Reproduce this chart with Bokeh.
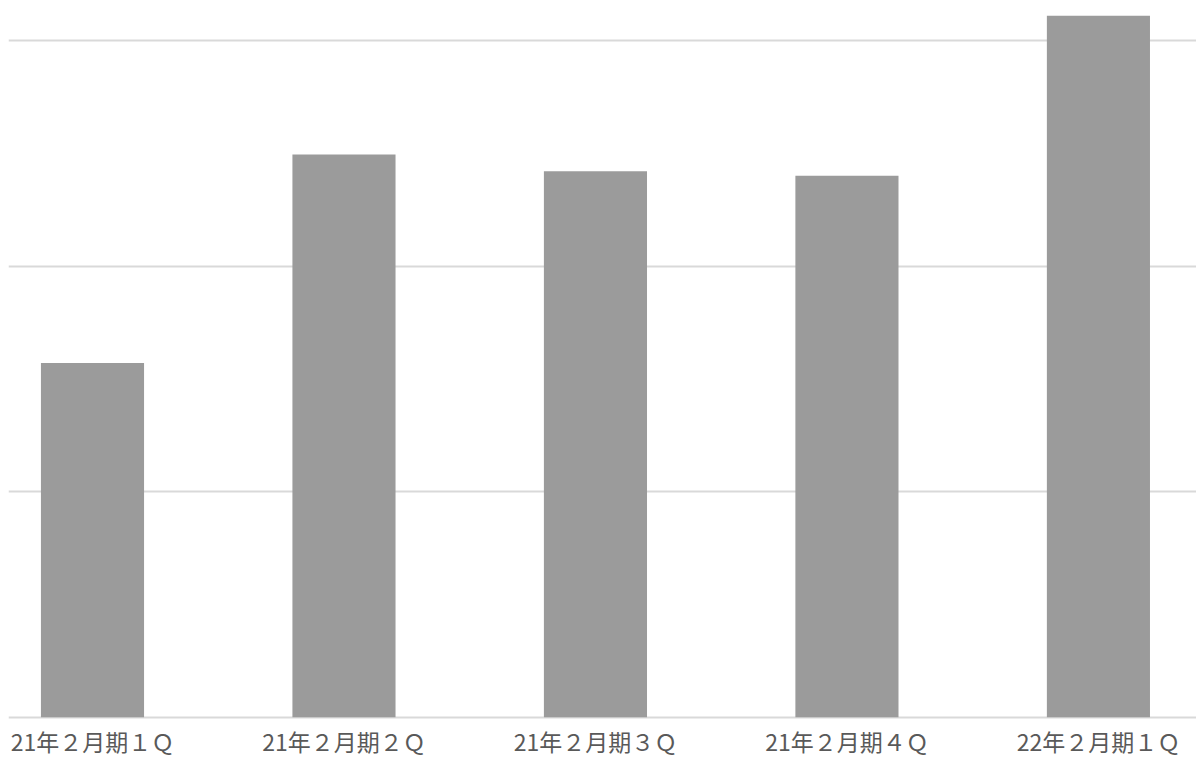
from bokeh.plotting import figure
from bokeh.models import Range1d, FixedTicker, ColumnDataSource
from bokeh.embed import file_html
from bokeh.resources import INLINE

categories = ["21年２月期１Ｑ", "21年２月期２Ｑ", "21年２月期３Ｑ", "21年２月期４Ｑ", "22年２月期１Ｑ"]
values = [157, 249.5, 242, 240, 311]
grid_ticks = [0, 100, 200, 300]

xs = list(range(len(categories)))
src = ColumnDataSource(dict(x=xs, top=values))

p = figure(width=1196, height=760, output_backend="svg", toolbar_location=None,
           x_range=Range1d(-0.334, 4.39), y_range=Range1d(-1.0, 315.5),
           min_border_left=8, min_border_right=0, min_border_top=5, min_border_bottom=0)
p.outline_line_color = None
p.background_fill_color = "white"
p.border_fill_color = "white"

p.vbar(x="x", top="top", width=0.41, bottom=0, source=src,
       fill_color="#9b9b9b", line_color=None)

p.yaxis.visible = False
p.ygrid.ticker = FixedTicker(ticks=grid_ticks)
p.ygrid.grid_line_color = "#d9d9d9"
p.ygrid.grid_line_width = 2
p.xgrid.grid_line_color = None

p.xaxis.ticker = FixedTicker(ticks=xs)
p.xaxis.major_label_overrides = {i: c for i, c in enumerate(categories)}
p.xaxis.axis_line_color = None
p.xaxis.major_tick_line_color = None
p.xaxis.major_tick_out = 0
p.xaxis.major_tick_in = 0
p.xaxis.minor_tick_line_color = None
p.xaxis.major_label_standoff = 4
p.xaxis.major_label_text_line_height = 0.9
p.xaxis.major_label_text_font = "Noto Sans CJK JP"
p.xaxis.major_label_text_font_size = "23px"
p.xaxis.major_label_text_color = "#595959"

open("out.html", "w").write(file_html(p, INLINE))
